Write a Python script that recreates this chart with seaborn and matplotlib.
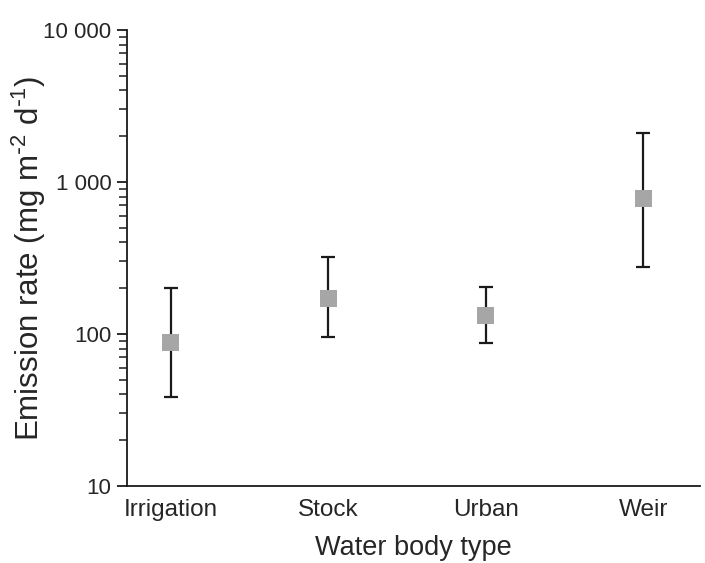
import matplotlib
matplotlib.use("Agg")
import matplotlib.pyplot as plt
import matplotlib.ticker as mticker
import numpy as np
import pandas as pd
import seaborn as sns

# emission rate per water body type (mean and error bar range)
water_body = ["Irrigation", "Stock", "Urban", "Weir"]
emission_mean = [88, 172, 133, 780]
emission_low = [38.5, 95, 87, 276]
emission_high = [200, 320, 204, 2100]

df = pd.DataFrame({"type": water_body, "rate": emission_mean})

sns.set_style("white")
plt.rcParams["font.family"] = ["Liberation Sans", "DejaVu Sans"]

fig = plt.figure(figsize=(7.05, 5.63), dpi=100)
ax = fig.add_axes([0.180, 0.137, 0.813, 0.810])

yerr = [np.array(emission_mean) - np.array(emission_low),
        np.array(emission_high) - np.array(emission_mean)]
ax.errorbar(water_body, emission_mean, yerr=yerr, fmt="none",
            ecolor="#1a1a1a", elinewidth=1.6, capsize=5, capthick=1.6, zorder=2)
sns.scatterplot(data=df, x="type", y="rate", marker="s", s=150,
                color="#a6a6a6", edgecolor="none", ax=ax, zorder=3)

ax.set_yscale("log")
ax.set_ylim(10, 10000)
ax.set_xlim(-0.28, 3.36)
ax.yaxis.set_major_formatter(mticker.FuncFormatter(
    lambda v, p: f"{int(round(v)):,}".replace(",", " ")))
ax.yaxis.set_minor_locator(mticker.LogLocator(base=10, subs=np.arange(2, 10)))
ax.yaxis.set_minor_formatter(mticker.NullFormatter())

sns.despine(ax=ax, top=True, right=True)
for s in ["left", "bottom"]:
    ax.spines[s].set_color("#1a1a1a")
    ax.spines[s].set_linewidth(1.3)

ax.tick_params(axis="y", which="major", left=True, length=7, width=1.3,
               labelsize=16, color="#1a1a1a", pad=4)
ax.tick_params(axis="y", which="minor", left=True, length=6, width=1.1, color="#1a1a1a")
ax.tick_params(axis="x", bottom=False, labelsize=17.5, pad=6)

ax.set_xlabel("Water body type", fontsize=19.5, labelpad=10)
ax.set_ylabel("Emission rate (mg m$^{\u2010\\mathregular{2}}$ d$^{\u2010\\mathregular{1}}$)",
              fontsize=22.5, labelpad=-3)

fig.savefig("out.png", dpi=100)
